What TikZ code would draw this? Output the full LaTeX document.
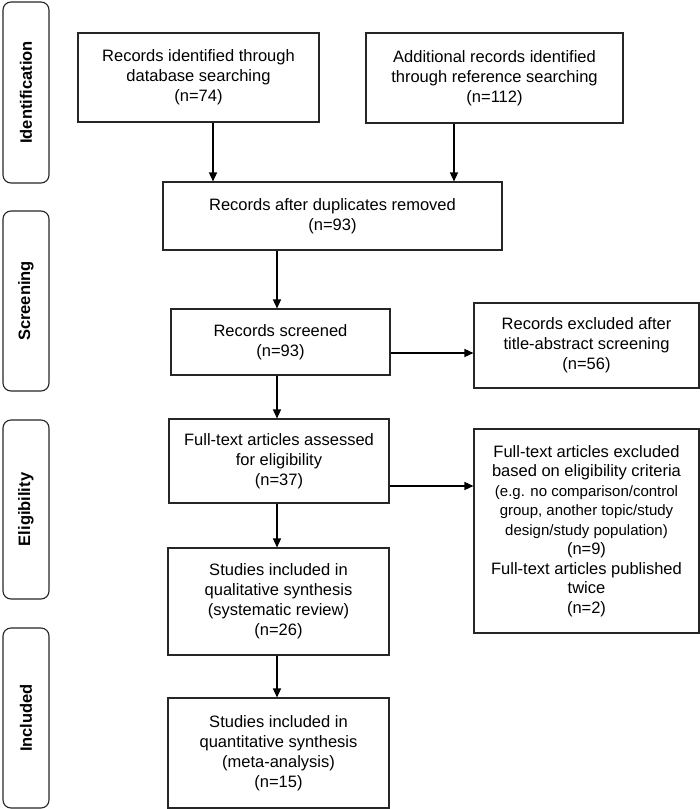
\documentclass[tikz,border=0pt]{standalone}
\usepackage{fontspec}
\setmainfont{Liberation Sans}
\usetikzlibrary{arrows.meta}
\begin{document}
\begin{tikzpicture}[x=1pt,y=-1pt,
  box/.style={draw=black!85, line width=1.1pt, rectangle, inner sep=0pt, align=center,
    font=\fontsize{16.5}{20}\selectfont, text=black},
  lab/.style={draw=black!85, line width=1.1pt, rectangle, rounded corners=8pt, inner sep=0pt,
    font=\fontsize{16.5}{20}\selectfont\bfseries, rotate=90, minimum height=46pt},
  arr/.style={draw=black, line width=1.3pt, -{Triangle[length=9pt,width=8pt]}}
]
\useasboundingbox (0,0) rectangle (700,809);
\fill[white] (0,0) rectangle (700,809);

% phase labels
\node[lab, minimum width=181pt] (l1) at (26,92.5) {Identification};
\node[lab, minimum width=180pt] (l2) at (26,301) {Screening};
\node[lab, minimum width=179pt] (l3) at (26,509.5) {Eligibility};
\node[lab, minimum width=180pt] (l4) at (26,718) {Included};

% boxes
\node[box, minimum width=241pt, minimum height=89pt] (b1) at (198.5,77.5)
  {Records identified through\\database searching\\(n=74)};
\node[box, minimum width=257pt, minimum height=90pt] (b2) at (494.5,78)
  {Additional records identified\\through reference searching\\(n=112)};
\node[box, minimum width=339pt, minimum height=68pt] (b3) at (332.5,216)
  {Records after duplicates removed\\(n=93)};
\node[box, minimum width=219pt, minimum height=66pt] (b4) at (280.5,342)
  {Records screened\\(n=93)};
\node[box, minimum width=225pt, minimum height=85pt] (b5) at (586.5,345.5)
  {Records excluded after\\title-abstract screening\\(n=56)};
\node[box, minimum width=220pt, minimum height=84pt] (b6) at (279,461)
  {Full-text articles assessed\\for eligibility\\(n=37)};
\node[box, minimum width=225pt, minimum height=204pt, font=\fontsize{16.5}{19.5}\selectfont] (b7) at (586.5,531)
  {Full-text articles excluded\\based on eligibility criteria\\
   {\fontsize{15}{19.5}\selectfont (e.g. no comparison/control}\\
   {\fontsize{15}{19.5}\selectfont group, another topic/study}\\
   {\fontsize{15}{19.5}\selectfont design/study population)}\\
   (n=9)\\Full-text articles published\\twice\\(n=2)};
\node[box, minimum width=221pt, minimum height=107pt] (b8) at (278.5,601.5)
  {Studies included in\\qualitative synthesis\\(systematic review)\\(n=26)};
\node[box, minimum width=221pt, minimum height=110pt] (b9) at (278.5,753)
  {Studies included in\\quantitative synthesis\\(meta-analysis)\\(n=15)};

% connector guides
\coordinate (c1) at (213,0);
\coordinate (c2) at (454,0);
\coordinate (c3) at (277,0);
\coordinate (r1) at (0,353);
\coordinate (r2) at (0,486);

\draw[arr] (b1.south -| c1) -- (b3.north -| c1);
\draw[arr] (b2.south -| c2) -- (b3.north -| c2);
\draw[arr] (b3.south -| c3) -- (b4.north -| c3);
\draw[arr] (b4.east |- r1) -- (b5.west |- r1);
\draw[arr] (b4.south -| c3) -- (b6.north -| c3);
\draw[arr] (b6.east |- r2) -- (b7.west |- r2);
\draw[arr] (b6.south -| c3) -- (b8.north -| c3);
\draw[arr] (b8.south -| c3) -- (b9.north -| c3);
\end{tikzpicture}
\end{document}
